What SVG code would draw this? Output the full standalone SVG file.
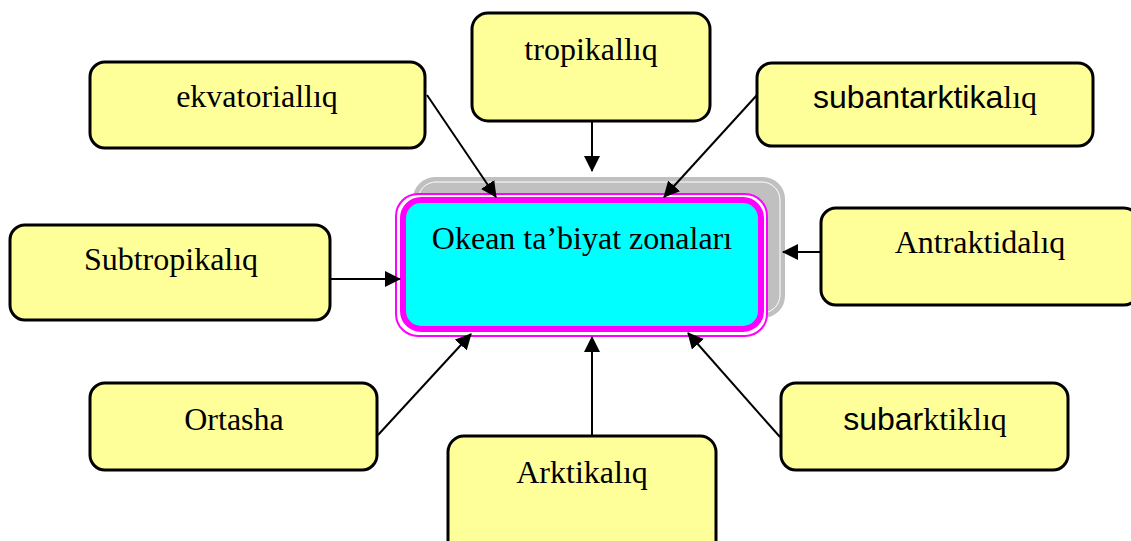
<svg xmlns="http://www.w3.org/2000/svg" width="1131" height="541" viewBox="0 0 1131 541">
<style>
.box{fill:#ffff99;stroke:#000;stroke-width:3}
.t{font-family:"Liberation Serif",serif;font-size:32px;fill:#000;text-anchor:middle}
.s{font-family:"Liberation Sans",sans-serif}
.c{stroke:#000;stroke-width:2;fill:none;marker-end:url(#ah)}
</style>
<defs>
<marker id="ah" markerUnits="userSpaceOnUse" markerWidth="16" markerHeight="16" viewBox="0 0 16 16" refX="15" refY="8" orient="auto">
<path d="M0,0 L16,8 L0,16 Z" fill="#000"/>
</marker>
</defs>
<g id="center">
<rect x="413" y="177" width="372" height="141" rx="22" fill="#c0c0c0"/>
<rect x="418" y="182" width="362" height="131" rx="18" fill="none" stroke="#fff" stroke-width="1"/>
<rect x="396" y="194" width="371" height="142" rx="22" fill="#fff" stroke="#ff00ff" stroke-width="2"/>
<rect x="403" y="200" width="358" height="129" rx="18" fill="#00ffff" stroke="#ff00ff" stroke-width="6"/>
<text class="t" x="582" y="249">Okean ta’biyat zonaları</text>
</g>
<g id="tropikalliq">
<rect class="box" x="472" y="13" width="238" height="108" rx="16"/>
<text class="t" x="591" y="60">tropikallıq</text>
</g>
<g id="ekvatorialliq">
<rect class="box" x="90" y="62" width="335" height="86" rx="15"/>
<text class="t" x="257" y="107">ekvatoriallıq</text>
</g>
<g id="subantarktikaliq">
<rect class="box" x="757" y="63" width="336" height="83" rx="15"/>
<text class="t" x="925" y="108"><tspan class="s">subantarktika</tspan>lıq</text>
</g>
<g id="subtropikaliq">
<rect class="box" x="10" y="225" width="320" height="95" rx="15"/>
<text class="t" x="171" y="270">Subtropikalıq</text>
</g>
<g id="antraktidaliq">
<rect class="box" x="821" y="208" width="318" height="97" rx="15"/>
<text class="t" x="980" y="253">Antraktidalıq</text>
</g>
<g id="ortasha">
<rect class="box" x="90" y="383" width="287" height="87" rx="15"/>
<text class="t" x="234" y="430">Ortasha</text>
</g>
<g id="subarktikliq">
<rect class="box" x="781" y="383" width="287" height="87" rx="15"/>
<text class="t" x="925" y="430"><tspan class="s">subar</tspan>ktiklıq</text>
</g>
<g id="arktikaliq">
<rect class="box" x="448" y="436" width="268" height="120" rx="16"/>
<text class="t" x="582" y="483">Arktikalıq</text>
</g>
<g id="connectors">
<line class="c" x1="592" y1="121" x2="592" y2="171"/>
<line class="c" x1="427" y1="95" x2="496" y2="197"/>
<line class="c" x1="757" y1="95" x2="664" y2="197"/>
<line class="c" x1="330" y1="279" x2="400" y2="279"/>
<line class="c" x1="822" y1="252" x2="783" y2="252"/>
<line class="c" x1="378" y1="435" x2="471" y2="334"/>
<line class="c" x1="780" y1="437" x2="688" y2="333"/>
<line class="c" x1="592" y1="436" x2="592" y2="337"/>
</g>
</svg>
